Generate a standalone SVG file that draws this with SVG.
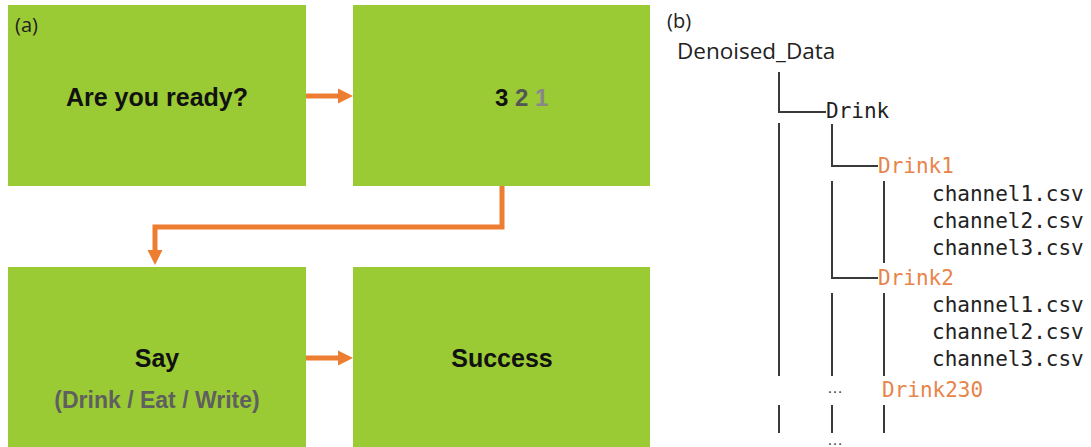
<svg xmlns="http://www.w3.org/2000/svg" width="1091" height="447" viewBox="0 0 1091 447">
<style>
.box{fill:#9ACB34}
.t{font-family:"Liberation Sans",Arial,sans-serif;font-weight:bold;font-size:25px;fill:#111;text-anchor:middle}
.lab{font-family:"Open Sans","Liberation Sans",sans-serif;font-size:20px;fill:#222}
.arr{stroke:#ED7D31;stroke-width:5;fill:none}
.mono{font-family:"DejaVu Sans Mono","Liberation Mono",monospace;font-size:21px;fill:#222}
.or{fill:#E8844A}
.dots{font-family:"Liberation Sans",Arial,sans-serif;font-size:16px;fill:#444}
.tree{stroke:#3a3a3a;stroke-width:2;fill:none}
</style>
<defs>
<marker id="ah" viewBox="0 0 10 10" refX="0" refY="5" markerWidth="3" markerHeight="3.2" orient="auto" markerUnits="strokeWidth">
<path d="M0,0 L10,5 L0,10 z" fill="#ED7D31"/>
</marker>
</defs>
<rect width="1091" height="447" fill="#fff"/>
<g id="ready"><rect class="box" x="8" y="5" width="298" height="181"/><text class="t" x="157" y="106">Are you ready?</text></g>
<g id="countdown"><rect class="box" x="353" y="5" width="297" height="181"/><text class="t" x="495" y="106" style="text-anchor:start;font-size:24px"><tspan fill="#111">3</tspan> <tspan fill="#555">2</tspan> <tspan fill="#888">1</tspan></text></g>
<g id="say"><rect class="box" x="8" y="267" width="298" height="180"/><text class="t" x="157" y="367">Say</text><text class="t" x="157" y="408" style="font-size:23px;fill:#5f5f5f">(Drink / Eat / Write)</text></g>
<g id="success"><rect class="box" x="353" y="267" width="297" height="180"/><text class="t" x="502" y="367">Success</text></g>
<text class="lab" x="15" y="32">(a)</text>
<g id="connectors">
<line class="arr" x1="306" y1="96" x2="338" y2="96" marker-end="url(#ah)"/>
<line class="arr" x1="306" y1="358" x2="338" y2="358" marker-end="url(#ah)"/>
<polyline class="arr" points="502,186 502,227 155,227 155,250" marker-end="url(#ah)"/>
</g>
<g id="tree">
<text class="lab" x="667" y="28">(b)</text>
<text class="lab" x="677" y="59" style="font-size:22.5px">Denoised_Data</text>
<path class="tree" d="M779,72 V112 H826 M779,123 V376 M779,405 V433 M832,124 V166 H878 M832,181 V278 H878 M832,293 V376 M832,405 V433 M884,181 V263 M884,293 V376 M884,405 V433"/>
<text class="mono" x="826" y="118">Drink</text>
<text class="mono or" x="878" y="173">Drink1</text>
<text class="mono" x="932" y="201">channel1.csv</text>
<text class="mono" x="932" y="228">channel2.csv</text>
<text class="mono" x="932" y="255">channel3.csv</text>
<text class="mono or" x="878" y="285">Drink2</text>
<text class="mono" x="932" y="312">channel1.csv</text>
<text class="mono" x="932" y="339">channel2.csv</text>
<text class="mono" x="932" y="366">channel3.csv</text>
<text class="dots" x="827" y="393">…</text>
<text class="mono or" x="882" y="397">Drink230</text>
<text class="dots" x="827" y="445">…</text>
</g>
</svg>
